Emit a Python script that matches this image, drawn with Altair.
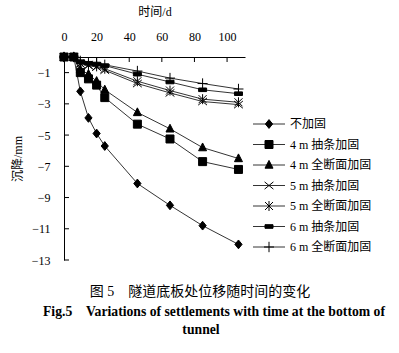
import altair as alt
import pandas as pd

# ---- data ----
times = [0, 6, 10, 15, 20, 25, 45, 65, 85, 107]
series_names = ["不加固", "4 m 抽条加固", "4 m 全断面加固", "5 m 抽条加固",
                "5 m 全断面加固", "6 m 抽条加固", "6 m 全断面加固"]
s_none = [0, 0, -2.2, -3.9, -4.9, -5.7, -8.1, -9.5, -10.8, -12.0]
s_4m_strip = [0, 0, -1.0, -1.4, -1.8, -2.6, -4.3, -5.25, -6.7, -7.2]
s_4m_full = [0, 0, -0.8, -1.1, -1.55, -2.1, -3.55, -4.6, -5.8, -6.5]
s_5m_strip = [0, 0, -0.45, -0.55, -0.65, -0.85, -1.7, -2.3, -2.85, -3.05]
s_5m_full = [0, 0, -0.4, -0.5, -0.6, -0.75, -1.55, -2.15, -2.7, -2.9]
s_6m_strip = [0, 0, -0.3, -0.4, -0.45, -0.55, -1.1, -1.6, -2.1, -2.35]
s_6m_full = [0, 0, -0.25, -0.35, -0.4, -0.5, -0.9, -1.35, -1.7, -2.05]
all_series = [s_none, s_4m_strip, s_4m_full, s_5m_strip, s_5m_full, s_6m_strip, s_6m_full]

x_ticks = [0, 20, 40, 60, 80, 100]
y_ticks = [-1, -3, -5, -7, -9, -11, -13]

NB = "\u00a0"
x_title = "时间/d"
y_title = "沉降/mm"
caption_cn = "图" + NB + "5" + NB * 4 + "隧道底板处位移随时间的变化"
caption_en1 = "Fig.5" + NB * 4 + "Variations of settlements with time at the bottom of"
caption_en2 = "tunnel"

# ---- tables ----
rows = []
for name, vals in zip(series_names, all_series):
    for t, v in zip(times, vals):
        rows.append({"series": name, "t": t, "v": v})
df = pd.DataFrame(rows)

W, H = 181, 203
SERIF = "Liberation Serif"
CJK = "Liberation Serif, Noto Sans CJK SC"

shape_paths = [
    "M0,-1.1L0.9,0L0,1.1L-0.9,0Z",               # diamond
    "M-1,-1L1,-1L1,1L-1,1Z",                      # square
    "M0,-1.15L1,0.8L-1,0.8Z",                     # triangle
    "M-1.1,-0.9L1.1,0.9M-1.1,0.9L1.1,-0.9",        # x
    "M-1,-1L1,1M-1,1L1,-1M0,-1.25L0,1.25",         # star
    "M-1,-0.45L1,-0.45L1,0.45L-1,0.45Z",          # dash
    "M-1.25,0L1.25,0M0,-1.3L0,1.3",               # plus
]
shape_scale = alt.Scale(domain=series_names, range=shape_paths)

xs = alt.Scale(domain=[0, 111], nice=False, zero=False)
ys = alt.Scale(domain=[-13, 0], nice=False, zero=False)

x_axis = alt.Axis(
    orient="top", values=x_ticks, ticks=False, grid=False, domainColor="black",
    labelFont=SERIF, labelFontSize=12, labelColor="black", labelPadding=14,
    labelOverlap=False, labelFlush=False, labelBound=False,
    title=x_title, titleFont=CJK, titleFontSize=12, titleFontWeight="normal",
    titleColor="black", titlePadding=12)
y_axis = alt.Axis(
    values=y_ticks, ticks=False, grid=False, domainColor="black",
    labelFont=SERIF, labelFontSize=12, labelColor="black", labelPadding=14,
    labelOverlap=False, labelFlush=False, labelBound=False,
    title=y_title, titleFont=CJK, titleFontSize=12, titleFontWeight="normal",
    titleColor="black", titlePadding=7)


def X(field):
    return alt.X(field, scale=xs, axis=x_axis)


def Y(field):
    return alt.Y(field, scale=ys, axis=y_axis)


base = alt.Chart(df)
lines = base.mark_line(color="black", strokeWidth=0.8).encode(
    x=X("t:Q"), y=Y("v:Q"), detail="series:N", order="t:Q")
points = base.mark_point(filled=True, color="black", stroke="black",
                         strokeWidth=1, opacity=1, size=64).encode(
    x=X("t:Q"), y=Y("v:Q"),
    shape=alt.Shape("series:N", scale=shape_scale, legend=None))

xt = alt.Chart(pd.DataFrame({"t": x_ticks})).mark_rule(color="black", strokeWidth=1).encode(
    x=X("t:Q"), y=alt.value(0), y2=alt.value(5))
yt = alt.Chart(pd.DataFrame({"v": y_ticks})).mark_rule(color="black", strokeWidth=1).encode(
    y=Y("v:Q"), x=alt.value(0), x2=alt.value(5))

main = alt.layer(lines, points, xt, yt)

# ---- legend (layout in pixels relative to plot origin) ----
leg_top, leg_step = 67, 20.5
leg = pd.DataFrame({
    "series": series_names,
    "py": [leg_top + i * leg_step for i in range(len(series_names))],
})
leg["x1"] = 189
leg["x2"] = 221
leg["xm"] = 205
leg["xt"] = 226
lb = alt.Chart(leg)
leg_rule = lb.mark_rule(color="black", strokeWidth=0.8).encode(
    x=alt.X("x1:Q", scale=None, axis=None), x2="x2:Q",
    y=alt.Y("py:Q", scale=None, axis=None))
leg_pt = lb.mark_point(filled=True, color="black", stroke="black",
                       strokeWidth=1, opacity=1, size=64).encode(
    x=alt.X("xm:Q", scale=None, axis=None), y=alt.Y("py:Q", scale=None, axis=None),
    shape=alt.Shape("series:N", scale=shape_scale, legend=None))
leg_txt = lb.mark_text(align="left", baseline="middle", font=CJK, fontSize=12,
                       color="black").encode(
    x=alt.X("xt:Q", scale=None, axis=None), y=alt.Y("py:Q", scale=None, axis=None),
    text="series:N")

cap = pd.DataFrame({
    "txt": [caption_cn, caption_en1, caption_en2],
    "px": [136, -21, 137],
    "py": [235, 255, 273],
})
cap_cn = alt.Chart(cap.iloc[[0]]).mark_text(align="center", baseline="middle", font=CJK,
                                            fontSize=14, color="black").encode(
    x=alt.X("px:Q", scale=None, axis=None), y=alt.Y("py:Q", scale=None, axis=None), text="txt:N")
cap_en1 = alt.Chart(cap.iloc[[1]]).mark_text(align="left", baseline="middle", font=SERIF,
                                             fontSize=13.7, fontWeight="bold", color="black").encode(
    x=alt.X("px:Q", scale=None, axis=None), y=alt.Y("py:Q", scale=None, axis=None), text="txt:N")
cap_en2 = alt.Chart(cap.iloc[[2]]).mark_text(align="center", baseline="middle", font=SERIF,
                                             fontSize=13.7, fontWeight="bold", color="black").encode(
    x=alt.X("px:Q", scale=None, axis=None), y=alt.Y("py:Q", scale=None, axis=None), text="txt:N")

overlay = alt.layer(leg_rule, leg_pt, leg_txt, cap_cn, cap_en1, cap_en2)

chart = alt.layer(main, overlay).resolve_scale(
    x="independent", y="independent", shape="independent"
).properties(
    width=W, height=H,
    autosize=alt.AutoSizeParams(type="none"),
    padding={"left": 64, "top": 57, "right": 154, "bottom": 93},
    background="white",
).configure_view(stroke=None).configure_axis(labelOverlap=False)

chart.save("out.html", embed_options={"renderer": "svg", "actions": False})
